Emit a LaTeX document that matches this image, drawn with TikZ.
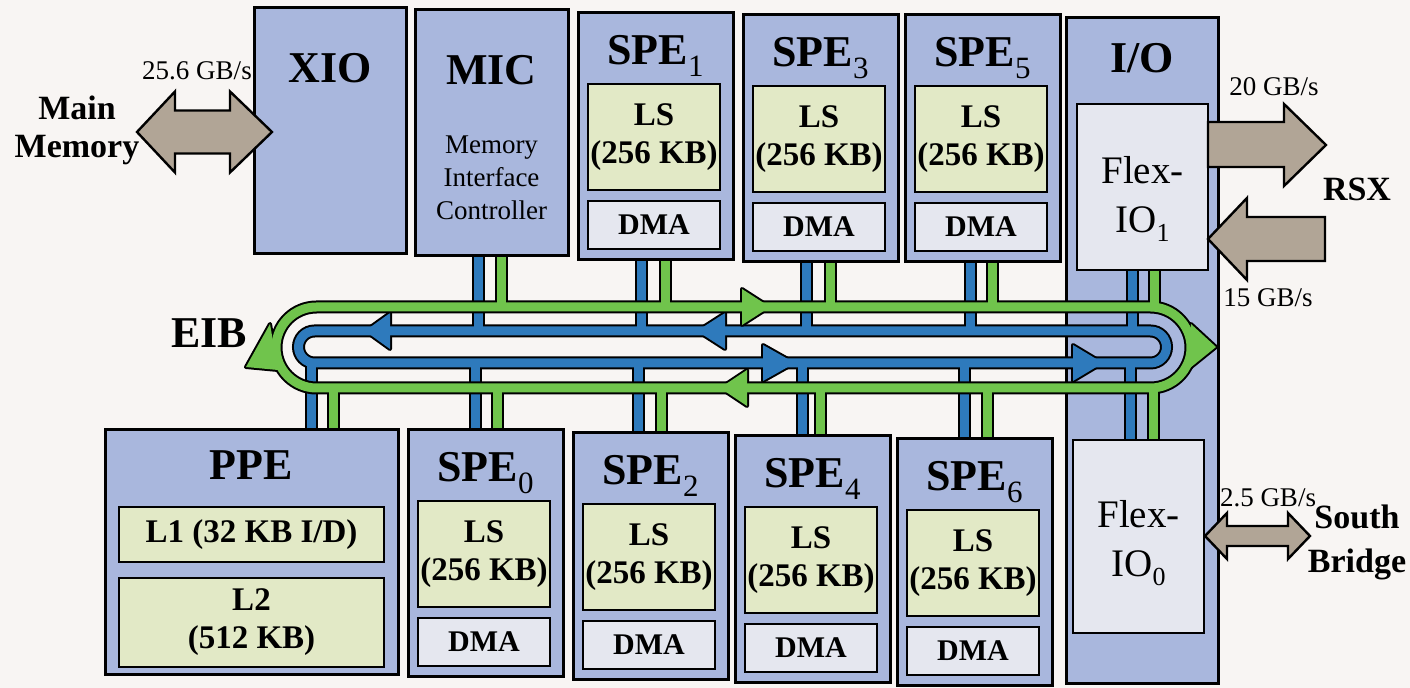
\documentclass[tikz,border=0pt]{standalone}
\usepackage{fontspec}
\setmainfont{Liberation Serif}
\usetikzlibrary{calc}
\definecolor{paper}{RGB}{248,245,243}
\definecolor{unitblue}{RGB}{169,183,221}
\definecolor{lsgreen}{RGB}{226,233,198}
\definecolor{dmagray}{RGB}{229,231,239}
\definecolor{busblue}{RGB}{46,122,188}
\definecolor{busgreen}{RGB}{112,196,76}
\definecolor{linkbrown}{RGB}{177,165,150}
\newcommand{\idx}[1]{\raisebox{-6pt}{\fontsize{15.5}{15.5}\selectfont\mdseries #1}}
\newcommand{\iosub}[1]{\raisebox{-4.5pt}{\fontsize{13}{13}\selectfont #1}}
% one SPE: name, left, top, index
\newcommand{\spebox}[4]{%
  \node[unit, sz={155}{247}] (#1) at (#2+77.5,#3+123.5) {};
  \node[title] (#1t) at (#2+77.5,#3+52) {SPE\idx{#4}};
  \node[ls, sz={132}{106}] (#1ls) at (#2+76,#3+124) {LS\\(256 KB)};
  \node[dma, sz={132}{48}] (#1dma) at (#2+76,#3+212) {DMA};
}

\begin{document}
\begin{tikzpicture}[
  x=0.5pt, y=-0.5pt,
  sz/.style 2 args={minimum width=#1*0.5pt, minimum height=#2*0.5pt},
  unit/.style={draw, line width=1.5pt, fill=unitblue, inner sep=0pt},
  ls/.style={draw, line width=1.3pt, fill=lsgreen, inner sep=0pt, align=center,
    font=\fontsize{16.5}{19}\selectfont\bfseries},
  dma/.style={draw, line width=1.3pt, fill=dmagray, inner sep=0pt,
    font=\fontsize{15}{17}\selectfont\bfseries},
  flex/.style={draw, line width=1.3pt, fill=dmagray, inner sep=0pt},
  flexlbl/.style={align=center, inner sep=0pt, font=\fontsize{19.5}{24.5}\selectfont},
  title/.style={anchor=base, inner sep=0pt, font=\fontsize{22}{24}\selectfont\bfseries},
  sub/.style={align=center, inner sep=0pt, font=\fontsize{13.5}{16.5}\selectfont},
  ext/.style={align=center, inner sep=0pt, font=\fontsize{17}{19}\selectfont\bfseries},
  rate/.style={anchor=base, inner sep=0pt, font=\fontsize{13.5}{15}\selectfont},
  fat/.style={draw=black, fill=linkbrown, line width=1.2pt, line join=miter},
  bandedge/.style={draw=black, line width=6.5pt},
  blueband/.style={draw=busblue, line width=4.5pt},
  greenband/.style={draw=busgreen, line width=4.5pt},
  tipedge/.style={draw=black, fill=black, line width=2pt, line join=round},
  bluetip/.style={fill=busblue},
  greentip/.style={fill=busgreen}
]
\fill[paper] (0,0) rectangle (1410,688);
\useasboundingbox (0,0) rectangle (1410,688);

% top row
\node[unit, sz={152}{246}] (xio) at (330,131) {};
\node[title] (xiot) at (330,83) {XIO};
\node[unit, sz={153}{246}] (mic) at (491.5,133) {};
\node[title] (mict) at (491.5,85) {MIC};
\node[sub] (micsub) at (491.5,178) {Memory\\Interface\\Controller};
\spebox{spe1}{578}{13}{1}
\spebox{spe3}{743}{15}{3}
\spebox{spe5}{905}{15}{5}

% I/O column
\node[unit, sz={152}{666}] (io) at (1142,351) {};
\node[title] (iot) at (1142,73) {I/O};
\node[flex, sz={131}{166}] (fioa) at (1142.5,187) {};
\node[flexlbl] (fioat) at (1142.5,199) {Flex-\\IO\iosub{1}};
\node[flex, sz={131}{193}] (fiob) at (1138.5,536.5) {};
\node[flexlbl] (fiobt) at (1138.5,543) {Flex-\\IO\iosub{0}};

% bottom row
\node[unit, sz={293}{245}] (ppe) at (251.5,552.5) {};
\node[title] (ppet) at (251.5,480) {PPE};
\node[ls, sz={265}{55}] (l1) at (251.5,534.5) {L1 (32 KB I/D)};
\node[ls, sz={265}{89}] (l2) at (251.5,622.5) {L2\\(512 KB)};
\spebox{spe0}{408}{430}{0}
\spebox{spe2}{573}{433}{2}
\spebox{spe4}{735}{436}{4}
\spebox{spe6}{897}{439}{6}

% EIB rings
\coordinate (gt) at (0,307);
\coordinate (bt) at (0,331);
\coordinate (bb) at (0,363);
\coordinate (gb) at (0,388);
\node[title] (eib) at (209,348) {EIB};
\foreach \band/\tip in {bandedge/tipedge, blueband/bluetip} {
  \draw[\band, rounded corners=8pt] (298.5,331) rectangle (1166.5,363);
  \foreach \u/\dx in {mic/-13, spe1/-14, spe3/-14, spe5/-12, fioa/-10}
    \draw[\band] ($(\u.south)+(\dx,0)$) coordinate (s) -- (s |- bt);
  \foreach \u/\dx in {ppe/59.5, spe0/-10, spe2/-12, spe4/-10, spe6/-10, fiob/-8}
    \draw[\band] ($(\u.north)+(\dx,0)$) coordinate (s) -- (s |- bb);
  \path[\tip] (390,313) -- (365,331) -- (390,349) -- cycle
    (725,313) -- (697,331) -- (725,349) -- cycle
    (763,345) -- (795,363) -- (763,381) -- cycle
    (1073,345) -- (1103,363) -- (1073,381) -- cycle;
}
\foreach \band/\tip in {bandedge/tipedge, greenband/greentip} {
  \draw[\band, rounded corners=20.25pt] (276,307) rectangle (1191,388);
  \foreach \u/\dx in {mic/10, spe1/10, spe3/10, spe5/10, fioa/12}
    \draw[\band] ($(\u.south)+(\dx,0)$) coordinate (s) -- (s |- gt);
  \foreach \u/\dx in {ppe/82, spe0/12, spe2/11, spe4/8, spe6/13, fiob/15}
    \draw[\band] ($(\u.north)+(\dx,0)$) coordinate (s) -- (s |- gb);
  \path[\tip] (742,289) -- (770,307) -- (742,325) -- cycle
    (747,370) -- (720,388) -- (747,406) -- cycle
    (270,324) -- (246,367) -- (278,370) -- cycle
    (1191,324) -- (1216,347) -- (1190,368) -- cycle;
}

% external links
\node[ext] (mem) at (77,130) {Main\\Memory};
\node[rate] (r256) at (197,80) {25.6 GB/s};
\path[fat] (137,132) -- (175,91.5) -- (175,110.5) -- (230,110.5) -- (230,91.5)
  -- (272,132) -- (230,172.5) -- (230,153.5) -- (175,153.5) -- (175,172.5) -- cycle;
\node[rate] (r20) at (1274,96) {20 GB/s};
\node[ext, anchor=base] (rsx) at (1357,201) {RSX};
\node[rate] (r15) at (1268,307) {15 GB/s};
\path[fat] (1208,122) -- (1284,122) -- (1284,104) -- (1326,145) -- (1284,186)
  -- (1284,167) -- (1208,167) -- cycle;
\path[fat] (1325,217) -- (1247,217) -- (1247,198) -- (1208,239) -- (1247,280)
  -- (1247,261) -- (1325,261) -- cycle;
\node[rate] (r25) at (1268,507) {2.5 GB/s};
\node[ext, font=\fontsize{17}{22}\selectfont\bfseries] (sb) at (1357,542) {South\\Bridge};
\path[fat] (1205,536) -- (1227,513) -- (1227,526) -- (1288,526) -- (1288,513)
  -- (1310,536) -- (1288,559) -- (1288,546) -- (1227,546) -- (1227,559) -- cycle;
\end{tikzpicture}
\end{document}
